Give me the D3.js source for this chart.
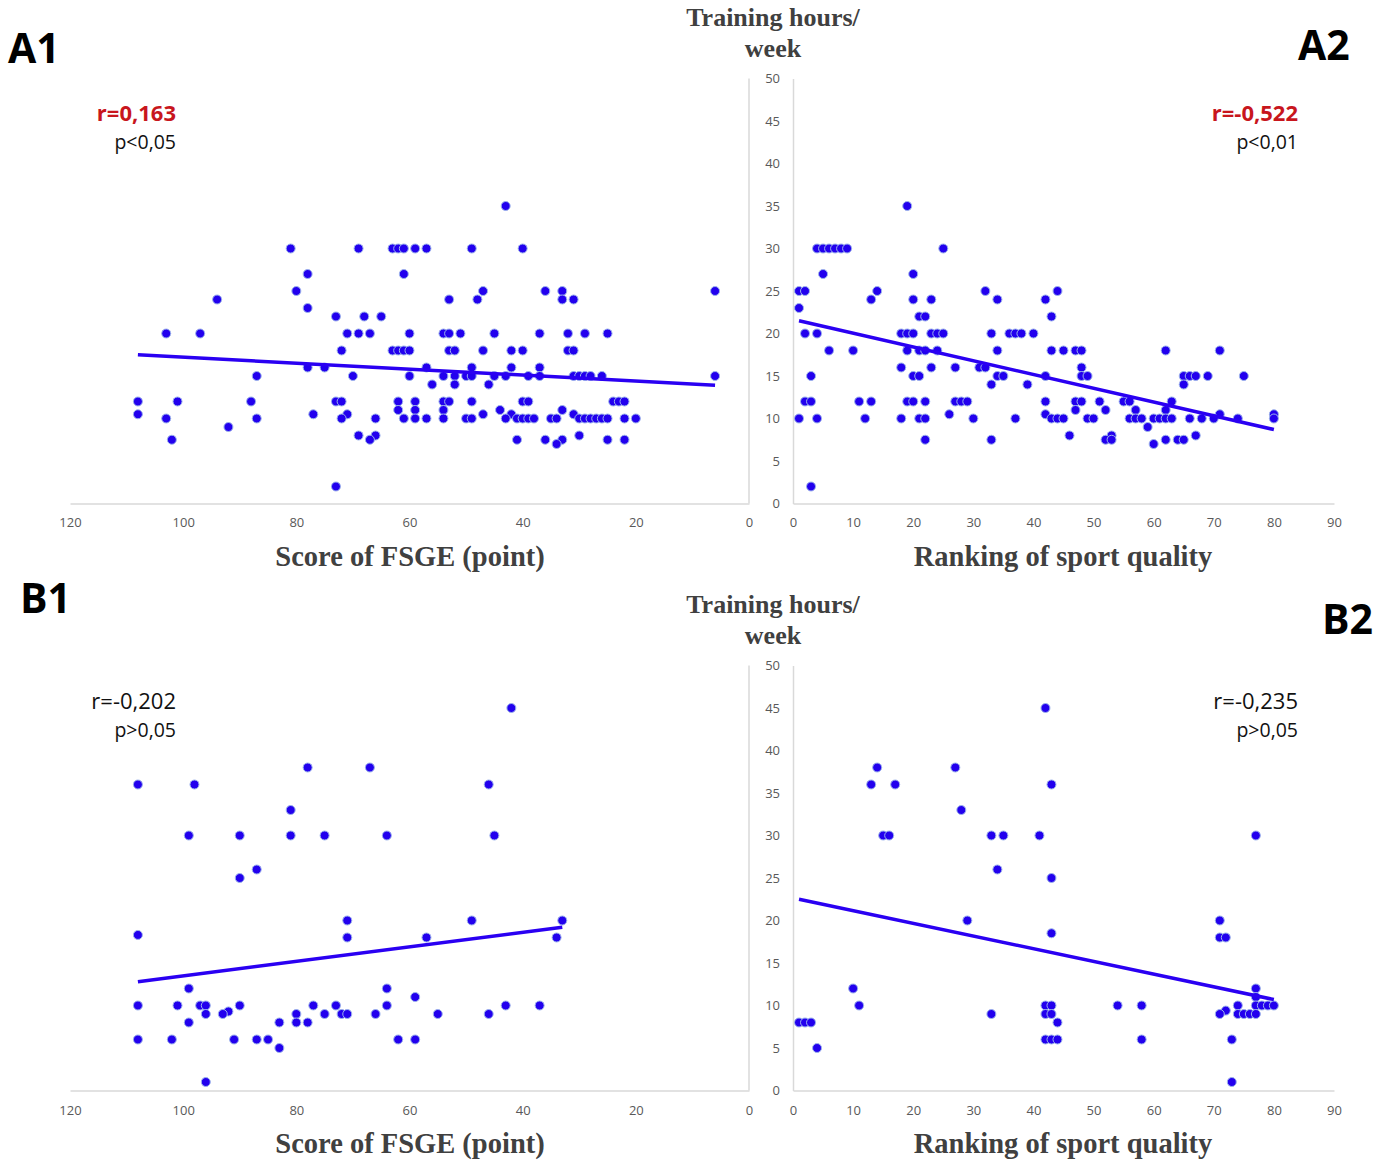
<!DOCTYPE html>
<html>
<head>
<meta charset="utf-8">
<script src="https://cdn.jsdelivr.net/npm/d3@7"></script>
<style>
  body { margin: 0; background: #fff; }
  .tick text { font-family: "Open Sans", sans-serif; font-size: 13px; fill: #595959; }
</style>
</head>
<body>
<div id="chart"></div>
<script>
// A1: training hours vs FSGE score  [score, hours]
const pointsA1 = [
  [43, 35],
  [81, 30], [69, 30], [63, 30], [62, 30], [61, 30], [59, 30], [57, 30], [49, 30], [40, 30],
  [78, 27], [61, 27],
  [80, 25], [47, 25], [36, 25], [33, 25], [6, 25],
  [94, 24], [53, 24], [48, 24], [33, 24], [31, 24],
  [78, 23],
  [73, 22], [68, 22], [65, 22],
  [103, 20], [97, 20], [71, 20], [69, 20], [67, 20], [60, 20], [54, 20], [53, 20], [51, 20], [45, 20], [37, 20], [32, 20], [29, 20], [25, 20],
  [72, 18], [63, 18], [62, 18], [61, 18], [60, 18], [53, 18], [52, 18], [47, 18], [42, 18], [40, 18], [32, 18], [31, 18],
  [78, 16], [75, 16], [57, 16], [49, 16], [42, 16], [37, 16],
  [87, 15], [70, 15], [60, 15], [54, 15], [52, 15], [50, 15], [49, 15], [45, 15], [43, 15], [39, 15], [37, 15], [31, 15], [30, 15], [29, 15], [28, 15], [26, 15], [6, 15],
  [56, 14], [52, 14], [46, 14],
  [108, 12], [101, 12], [88, 12], [73, 12], [72, 12], [62, 12], [59, 12], [54, 12], [53, 12], [49, 12], [40, 12], [39, 12], [24, 12], [23, 12], [22, 12],
  [62, 11], [59, 11], [54, 11], [44, 11], [33, 11],
  [108, 10.5], [77, 10.5], [71, 10.5], [47, 10.5], [42, 10.5], [31, 10.5],
  [103, 10], [87, 10], [72, 10], [66, 10], [61, 10], [59, 10], [57, 10], [54, 10], [50, 10], [49, 10], [43, 10], [41, 10], [40, 10], [39, 10], [38, 10],
  [35, 10], [34, 10], [30, 10], [29, 10], [28, 10], [27, 10], [26, 10], [25, 10], [22, 10], [20, 10],
  [92, 9],
  [69, 8], [66, 8], [30, 8],
  [102, 7.5], [67, 7.5], [41, 7.5], [36, 7.5], [33, 7.5], [25, 7.5], [22, 7.5],
  [34, 7],
  [73, 2]
];

// A2: training hours vs ranking  [rank, hours]
const pointsA2 = [
  [19, 35],
  [4, 30], [5, 30], [6, 30], [7, 30], [8, 30], [9, 30], [25, 30],
  [5, 27], [20, 27],
  [1, 25], [2, 25], [14, 25], [32, 25], [44, 25],
  [13, 24], [20, 24], [23, 24], [34, 24], [42, 24],
  [1, 23],
  [21, 22], [22, 22], [43, 22],
  [2, 20], [4, 20], [18, 20], [19, 20], [20, 20], [23, 20], [24, 20], [25, 20], [33, 20], [36, 20], [37, 20], [38, 20], [40, 20],
  [6, 18], [10, 18], [19, 18], [21, 18], [22, 18], [24, 18], [34, 18], [43, 18], [45, 18], [47, 18], [48, 18], [62, 18], [71, 18],
  [18, 16], [23, 16], [27, 16], [31, 16], [32, 16], [48, 16],
  [3, 15], [20, 15], [21, 15], [34, 15], [35, 15], [42, 15], [48, 15], [49, 15], [65, 15], [66, 15], [67, 15], [69, 15], [75, 15],
  [33, 14], [39, 14], [65, 14],
  [2, 12], [3, 12], [11, 12], [13, 12], [19, 12], [20, 12], [22, 12], [27, 12], [28, 12], [29, 12], [42, 12], [47, 12], [48, 12], [51, 12], [55, 12], [56, 12], [63, 12],
  [47, 11], [52, 11], [57, 11], [62, 11],
  [26, 10.5], [42, 10.5], [71, 10.5], [80, 10.5],
  [1, 10], [4, 10], [12, 10], [18, 10], [21, 10], [22, 10], [30, 10], [37, 10], [43, 10], [44, 10], [45, 10], [49, 10], [50, 10],
  [56, 10], [57, 10], [58, 10], [60, 10], [61, 10], [62, 10], [63, 10], [66, 10], [68, 10], [70, 10], [74, 10], [80, 10],
  [59, 9],
  [46, 8], [53, 8], [67, 8],
  [22, 7.5], [33, 7.5], [52, 7.5], [53, 7.5], [62, 7.5], [64, 7.5], [65, 7.5],
  [60, 7],
  [3, 2]
];

// B1
const pointsB1 = [
  [42, 45],
  [78, 38], [67, 38],
  [108, 36], [98, 36], [46, 36],
  [81, 33],
  [99, 30], [90, 30], [81, 30], [75, 30], [64, 30], [45, 30],
  [87, 26], [90, 25],
  [71, 20], [49, 20], [33, 20],
  [108, 18.3], [71, 18], [57, 18], [34, 18],
  [99, 12], [64, 12],
  [59, 11],
  [108, 10], [101, 10], [97, 10], [96, 10], [90, 10], [77, 10], [73, 10], [64, 10], [43, 10], [37, 10],
  [92, 9.3],
  [96, 9], [93, 9], [80, 9], [75, 9], [72, 9], [71, 9], [66, 9], [55, 9], [46, 9],
  [99, 8], [83, 8], [80, 8], [78, 8],
  [108, 6], [102, 6], [91, 6], [87, 6], [85, 6], [62, 6], [59, 6],
  [83, 5],
  [96, 1]
];

// B2
const pointsB2 = [
  [42, 45],
  [14, 38], [27, 38],
  [13, 36], [17, 36], [43, 36],
  [28, 33],
  [15, 30], [16, 30], [33, 30], [35, 30], [41, 30], [77, 30],
  [34, 26], [43, 25],
  [29, 20], [71, 20],
  [43, 18.5], [71, 18], [72, 18],
  [10, 12], [77, 12],
  [77, 11],
  [11, 10], [42, 10], [43, 10], [54, 10], [58, 10], [74, 10], [77, 10], [78, 10], [79, 10], [80, 10],
  [72, 9.4],
  [33, 9], [42, 9], [43, 9], [71, 9], [74, 9], [75, 9], [76, 9], [77, 9],
  [1, 8], [2, 8], [3, 8], [44, 8],
  [42, 6], [43, 6], [44, 6], [58, 6], [73, 6],
  [4, 5],
  [73, 1]
];

// trend line end points
const trendA1 = [[108, 17.5], [6, 13.9]];
const trendA2 = [[1, 21.5], [80, 8.7]];
const trendB1 = [[108, 12.8], [33, 19.2]];
const trendB2 = [[1, 22.5], [80, 10.7]];

const scoreTicks = [120, 100, 80, 60, 40, 20, 0];
const rankTicks = [0, 10, 20, 30, 40, 50, 60, 70, 80, 90];
const hourTicks = [0, 5, 10, 15, 20, 25, 30, 35, 40, 45, 50];

const stats = [
  { id: 'A1', r: 'r=0,163', p: 'p<0,05', sig: true },
  { id: 'A2', r: 'r=-0,522', p: 'p<0,01', sig: true },
  { id: 'B1', r: 'r=-0,202', p: 'p>0,05', sig: false },
  { id: 'B2', r: 'r=-0,235', p: 'p>0,05', sig: false }
];

const width = 1386;
const height = 1161;

const svg = d3.select('#chart')
  .append('svg')
  .attr('width', width)
  .attr('height', height);

const axisColor = '#d9d9d9';
const dotFill = '#2200ee';
const dotStroke = '#9db4ec';
const lineColor = '#2a00f2';

const xScore = d3.scaleLinear().domain([120, 0]).range([70, 749]);
const xRank = d3.scaleLinear().domain([0, 90]).range([793, 1334]);
const yTop = d3.scaleLinear().domain([0, 50]).range([503.5, 78.5]);
const yBot = d3.scaleLinear().domain([0, 50]).range([1090.5, 665.5]);

function styleAxis(g) {
  g.select('.domain').attr('stroke', axisColor).attr('stroke-width', 1.5);
  g.selectAll('.tick line').remove();
}

function drawPanel(points, trend, x, y, ticksX, left) {
  const g = svg.append('g');

  // x axis
  g.append('g')
    .attr('transform', `translate(0, ${y(0)})`)
    .call(d3.axisBottom(x).tickValues(ticksX).tickSize(0).tickSizeOuter(0).tickPadding(y(0) > 600 ? 15 : 14))
    .call(styleAxis);

  // y axis (score panels: right side no labels, rank panels: left side with labels)
  if (left) {
    g.append('g')
      .attr('transform', `translate(${x(0)}, 0)`)
      .call(d3.axisLeft(y).tickValues(hourTicks).tickSize(0).tickSizeOuter(0).tickPadding(13))
      .call(styleAxis);
  } else {
    g.append('line')
      .attr('x1', x(0)).attr('x2', x(0))
      .attr('y1', y(50)).attr('y2', y(0))
      .attr('stroke', axisColor)
      .attr('stroke-width', 1.5);
  }

  g.selectAll('.dot')
    .data(points)
    .enter()
    .append('circle')
    .attr('class', 'dot')
    .attr('cx', d => x(d[0]))
    .attr('cy', d => y(d[1]))
    .attr('r', 4.5)
    .attr('fill', dotFill)
    .attr('stroke', dotStroke)
    .attr('stroke-width', 1);

  g.append('path')
    .datum(trend)
    .attr('d', d3.line().x(d => x(d[0])).y(d => y(d[1])))
    .attr('fill', 'none')
    .attr('stroke', lineColor)
    .attr('stroke-width', 3.5);
}

drawPanel(pointsA1, trendA1, xScore, yTop, scoreTicks, false);
drawPanel(pointsA2, trendA2, xRank, yTop, rankTicks, true);
drawPanel(pointsB1, trendB1, xScore, yBot, scoreTicks, false);
drawPanel(pointsB2, trendB2, xRank, yBot, rankTicks, true);

// titles
const serif = '"Liberation Serif", "Times New Roman", serif';
const sans = '"Open Sans", "Liberation Sans", sans-serif';

function title(txt, xPos, yPos, size) {
  svg.append('text')
    .attr('x', xPos).attr('y', yPos)
    .attr('text-anchor', 'middle')
    .attr('font-family', serif)
    .attr('font-weight', 'bold')
    .attr('font-size', size)
    .attr('fill', '#404040')
    .text(txt);
}

title('Training hours/', 773, 26, 26);
title('week', 773, 57, 26);
title('Training hours/', 773, 613, 26);
title('week', 773, 644, 26);
title('Score of FSGE (point)', 410, 566, 28.5);
title('Ranking of sport quality', 1063, 566, 28.5);
title('Score of FSGE (point)', 410, 1153, 28.5);
title('Ranking of sport quality', 1063, 1153, 28.5);

// panel letters
const letterPos = { A1: [8, 63], A2: [1298, 60], B1: [20, 613], B2: [1322, 634] };
stats.forEach(s => {
  svg.append('text')
    .attr('x', letterPos[s.id][0]).attr('y', letterPos[s.id][1])
    .attr('font-family', sans)
    .attr('font-weight', 'bold')
    .attr('font-size', 41)
    .attr('fill', '#000')
    .text(s.id);
});

// r / p annotations
const annoPos = { A1: [176, 121], A2: [1298, 121], B1: [176, 709], B2: [1298, 709] };
stats.forEach(s => {
  const [ax, ay] = annoPos[s.id];
  svg.append('text')
    .attr('x', ax).attr('y', ay)
    .attr('text-anchor', 'end')
    .attr('font-family', sans)
    .attr('font-weight', s.sig ? 'bold' : 'normal')
    .attr('font-size', 22)
    .attr('fill', s.sig ? '#c8161d' : '#111')
    .text(s.r);
  svg.append('text')
    .attr('x', ax).attr('y', ay + 28)
    .attr('text-anchor', 'end')
    .attr('font-family', sans)
    .attr('font-size', 19.5)
    .attr('fill', '#111')
    .text(s.p);
});
</script>
</body>
</html>
